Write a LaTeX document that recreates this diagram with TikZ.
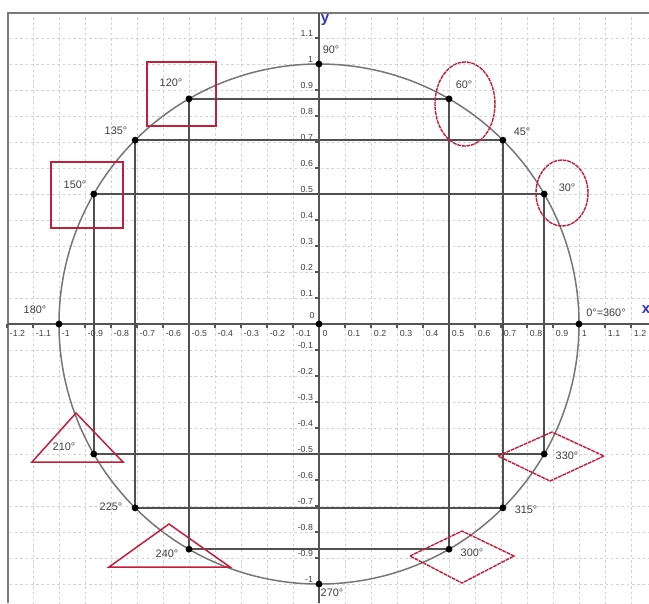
\documentclass[tikz,border=0pt]{standalone}
\usepackage{fontspec}
\setmainfont{Liberation Sans}
\definecolor{gridc}{HTML}{D2D2D2}
\definecolor{axc}{HTML}{555555}
\definecolor{framec}{HTML}{7A7A7A}
\definecolor{linec}{HTML}{505050}
\definecolor{circc}{HTML}{767676}
\definecolor{redc}{HTML}{C41E3A}
\definecolor{axlab}{HTML}{3030C8}
\definecolor{txtc}{HTML}{404040}
\begin{document}
\begin{tikzpicture}[x=5.2cm,y=5.2cm,
  gridline/.style={gridc, dash pattern=on 1.5pt off 1.5pt, line width=0.45pt},
  axisline/.style={axc, line width=1.1pt},
  tickline/.style={axc, line width=0.6pt},
  framel/.style={framec, line width=1.6pt},
  proj/.style={linec, line width=0.95pt},
  circline/.style={circc, line width=0.85pt},
  dot/.style={circle, fill=black, inner sep=0pt, minimum size=3.9pt},
  ticklab/.style={font=\fontsize{5}{5.5}\selectfont, text=txtc, inner sep=0pt},
  anglab/.style={font=\fontsize{6.2}{7}\selectfont, text=txtc, inner sep=0pt},
  axlabel/.style={font=\fontsize{8.5}{9}\selectfont\bfseries, text=axlab, inner sep=0pt},
  redmark/.style={redc, line width=0.85pt},
  redsoft/.style={redc, line width=0.8pt, dash pattern=on 2.2pt off 0.45pt}]
\useasboundingbox (-1.2269,-1.0731) rectangle (1.2692,1.2462);
\fill[white] (-1.2269,-1.0731) rectangle (1.2692,1.2462);
% grid
\begin{scope}
\clip (-1.196,-1.0731) rectangle (1.2692,1.196);
\foreach \k in {-12,...,12} \draw[gridline] (\k/10,-1.1) -- (\k/10,1.2);
\foreach \k in {-11,...,12} \draw[gridline] (-1.25,\k/10) -- (1.3,\k/10);
\end{scope}
% frame
\draw[framel] (-1.196,-1.0731) -- (-1.196,1.196) -- (1.2692,1.196);
% axes
\draw[axisline] (-1.196,0) -- (1.2692,0);
\draw[axisline] (0,-1.0731) -- (0,1.196);
\foreach \k in {-12,...,12} \draw[tickline] (\k/10,0) -- (\k/10,-0.016);
\foreach \k in {-10,...,11} \draw[tickline] (0,\k/10) -- (-0.016,\k/10);
% x tick labels
\foreach \k/\t in {-12/-1.2,-11/-1.1,-10/-1,-9/-0.9,-8/-0.8,-7/-0.7,-6/-0.6,-5/-0.5,-4/-0.4,-3/-0.3,-2/-0.2,-1/-0.1,1/0.1,2/0.2,3/0.3,4/0.4,5/0.5,6/0.6,7/0.7,8/0.8,9/0.9,10/1,11/1.1,12/1.2}
  \node[ticklab, anchor=north west] (xl\k) at (\k/10+0.010,-0.022) {\t};
\node[ticklab] (xl0) at (0.023,-0.038) {0};
% y tick labels
\foreach \k/\t in {-10/-1,-9/-0.9,-8/-0.8,-7/-0.7,-6/-0.6,-5/-0.5,-4/-0.4,-3/-0.3,-2/-0.2,-1/-0.1,1/0.1,2/0.2,3/0.3,4/0.4,5/0.5,6/0.6,7/0.7,8/0.8,9/0.9,10/1,11/1.1}
  \node[ticklab, anchor=south east] (yl\k) at (-0.022,\k/10+0.006) {\t};
\node[ticklab] (yl0) at (-0.027,0.031) {0};
% axis names
\node[axlabel] (ylab) at (0.0231,1.1692) {y};
\node[axlabel] (xlab) at (1.2577,0.0538) {x};
% unit circle
\draw[circline] (0,0) circle[radius=1];
% points
\foreach \a in {0,30,45,60,90,120,135,150,180,210,225,240,270,300,315,330}
  \coordinate (p\a) at (\a:1);
\coordinate (o) at (0,0);
% projection lines
\draw[proj] (p120) -- (p60);
\draw[proj] (p135) -- (p45);
\draw[proj] (p150) -- (p30);
\draw[proj] (p210) -- (p330);
\draw[proj] (p225) -- (p315);
\draw[proj] (p240) -- (p300);
\draw[proj] (p120) -- (p240);
\draw[proj] (p135) -- (p225);
\draw[proj] (p150) -- (p210);
\draw[proj] (p60) -- (p300);
\draw[proj] (p45) -- (p315);
\draw[proj] (p30) -- (p330);
% dots
\foreach \a in {0,30,45,60,90,120,135,150,180,210,225,240,270,300,315,330}
  \node[dot] (d\a) at (p\a) {};
\node[dot] (dO) at (o) {};
% angle labels
\node[anglab] (l0) at (1.1038,0.0423) {0°=360°};
\node[anglab] (l30) at (0.9538,0.5231) {30°};
\node[anglab] (l45) at (0.7808,0.7385) {45°};
\node[anglab] (l60) at (0.5577,0.9192) {60°};
\node[anglab] (l90) at (0.0462,1.0538) {90°};
\node[anglab] (l120) at (-0.5692,0.9269) {120°};
\node[anglab] (l135) at (-0.7808,0.7423) {135°};
\node[anglab] (l150) at (-0.9385,0.5346) {150°};
\node[anglab] (l180) at (-1.0923,0.0538) {180°};
\node[anglab] (l210) at (-0.9808,-0.4731) {210°};
\node[anglab] (l225) at (-0.8,-0.7038) {225°};
\node[anglab] (l240) at (-0.5846,-0.8846) {240°};
\node[anglab] (l270) at (0.05,-1.0346) {270°};
\node[anglab] (l300) at (0.5885,-0.8808) {300°};
\node[anglab] (l315) at (0.7962,-0.7154) {315°};
\node[anglab] (l330) at (0.9538,-0.5077) {330°};
% red annotations
\draw[redmark] (-0.6615,0.7615) rectangle (-0.3962,1.0077);
\draw[redmark] (-1.0308,0.3692) rectangle (-0.7538,0.6231);
\draw[redsoft] (0.5615,0.8462) ellipse[x radius=0.1154, y radius=0.1615];
\draw[redsoft] (0.9346,0.5038) ellipse[x radius=0.1, y radius=0.127];
\draw[redmark] (-0.9346,-0.3423) -- (-1.1038,-0.5308) -- (-0.7538,-0.5308) -- cycle;
\draw[redmark] (-0.5769,-0.7692) -- (-0.8077,-0.9346) -- (-0.3423,-0.9346) -- cycle;
\draw[redsoft] (0.6885,-0.5077) -- (0.8962,-0.4154) -- (1.0962,-0.5077) -- (0.8885,-0.6038) -- cycle;
\draw[redsoft] (0.35,-0.8923) -- (0.55,-0.7962) -- (0.75,-0.8923) -- (0.55,-0.9962) -- cycle;
\end{tikzpicture}
\end{document}
